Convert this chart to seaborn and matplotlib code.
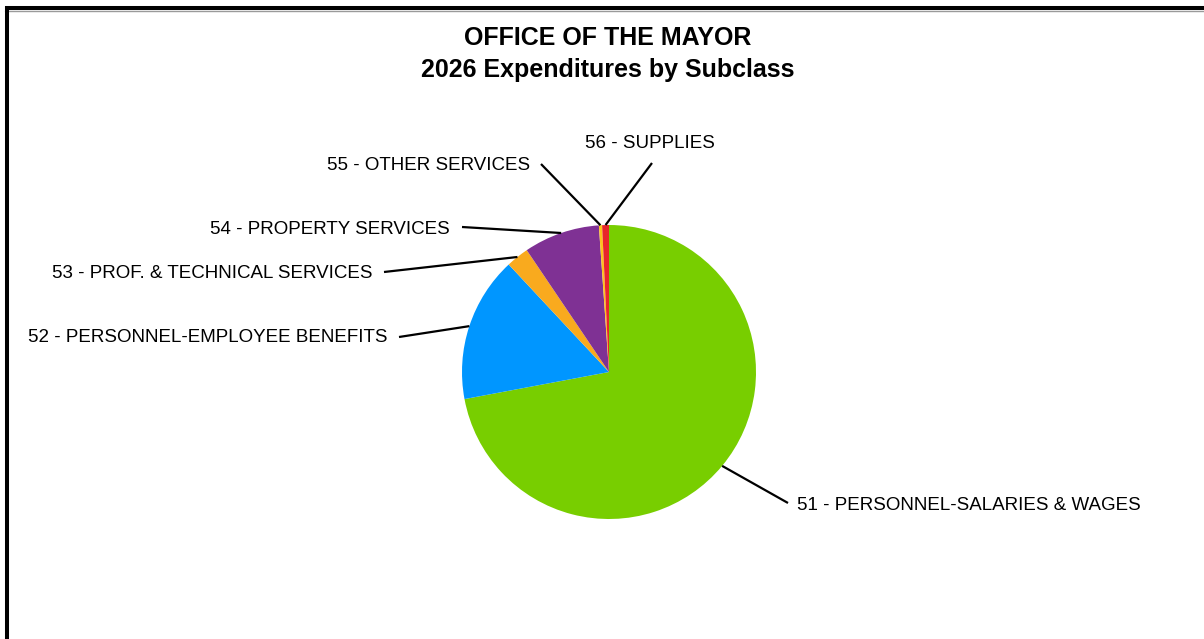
import numpy as np
import matplotlib
matplotlib.use("Agg")
import matplotlib.pyplot as plt
from matplotlib.lines import Line2D
import seaborn as sns

# Expenditure share by subclass (percent of total)
categories = [
    "51 - PERSONNEL-SALARIES & WAGES",
    "52 - PERSONNEL-EMPLOYEE BENEFITS",
    "53 - PROF. & TECHNICAL SERVICES",
    "54 - PROPERTY SERVICES",
    "55 - OTHER SERVICES",
    "56 - SUPPLIES",
]
shares = [72.05, 16.0, 2.5, 8.35, 0.35, 0.75]
colors = ["#78CE00", "#0096FF", "#F9AA1E", "#7F3194", "#FDC21E", "#E8262A"]

title_lines = ["OFFICE OF THE MAYOR", "2026 Expenditures by Subclass"]

sns.set_theme(style="white")
plt.rcParams["font.family"] = ["Liberation Sans", "DejaVu Sans"]

W, H = 1204, 639
fig = plt.figure(figsize=(W / 100, H / 100), dpi=100)
fig.patch.set_facecolor("white")

# Axes in pixel units (y measured downward via conversion helper)
ax = fig.add_axes([0, 0, 1, 1])


def py(y):
    return H - y


cx, cy, r = 609, 372, 147
wedges, _ = ax.pie(
    shares,
    colors=colors,
    startangle=90,
    counterclock=False,
    center=(cx, py(cy)),
    radius=r,
    wedgeprops=dict(linewidth=0),
    frame=True,
)
ax.set_xlim(0, W)
ax.set_ylim(0, H)
ax.set_aspect("equal")
ax.axis("off")

# Label layout: (line outer end x, y), (text anchor x, y), ha, va
layout = [
    ((788, 503), (797, 506), "left", "center"),
    ((399, 337), (388, 338), "right", "center"),
    ((384, 272), (372, 273), "right", "center"),
    ((462, 227), (450, 229), "right", "center"),
    ((541, 164), (530, 165), "right", "center"),
    ((652, 163), (650, 143), "center", "center"),
]

for w, name, (lend, tpos, ha, va) in zip(wedges, categories, layout):
    mid = np.deg2rad((w.theta1 + w.theta2) / 2)
    x0 = cx + r * np.cos(mid)
    y0 = py(cy) + r * np.sin(mid)
    ax.plot([x0, lend[0]], [y0, py(lend[1])], color="black", lw=1.6,
            solid_capstyle="butt")
    ax.text(tpos[0], py(tpos[1]), name, ha=ha, va=va, fontsize=13.5,
            color="black")

ax.text(608, py(38), title_lines[0], ha="center", va="center",
        fontsize=18, fontweight="bold", color="black")
ax.text(608, py(70), title_lines[1], ha="center", va="center",
        fontsize=18, fontweight="bold", color="black")

# Frame edges (top and left)
fig.add_artist(Line2D([5 / W, 1], [1 - 10.5 / H, 1 - 10.5 / H], color="#9a9a9a",
                      lw=1.0, transform=fig.transFigure))
fig.add_artist(Line2D([5 / W, 1], [1 - 8 / H, 1 - 8 / H], color="black",
                      lw=2.9, transform=fig.transFigure, solid_capstyle="butt"))
fig.add_artist(Line2D([7 / W, 7 / W], [0, 1 - 6 / H], color="black",
                      lw=2.9, transform=fig.transFigure, solid_capstyle="butt"))

fig.savefig("out.png", dpi=100, facecolor="white")
